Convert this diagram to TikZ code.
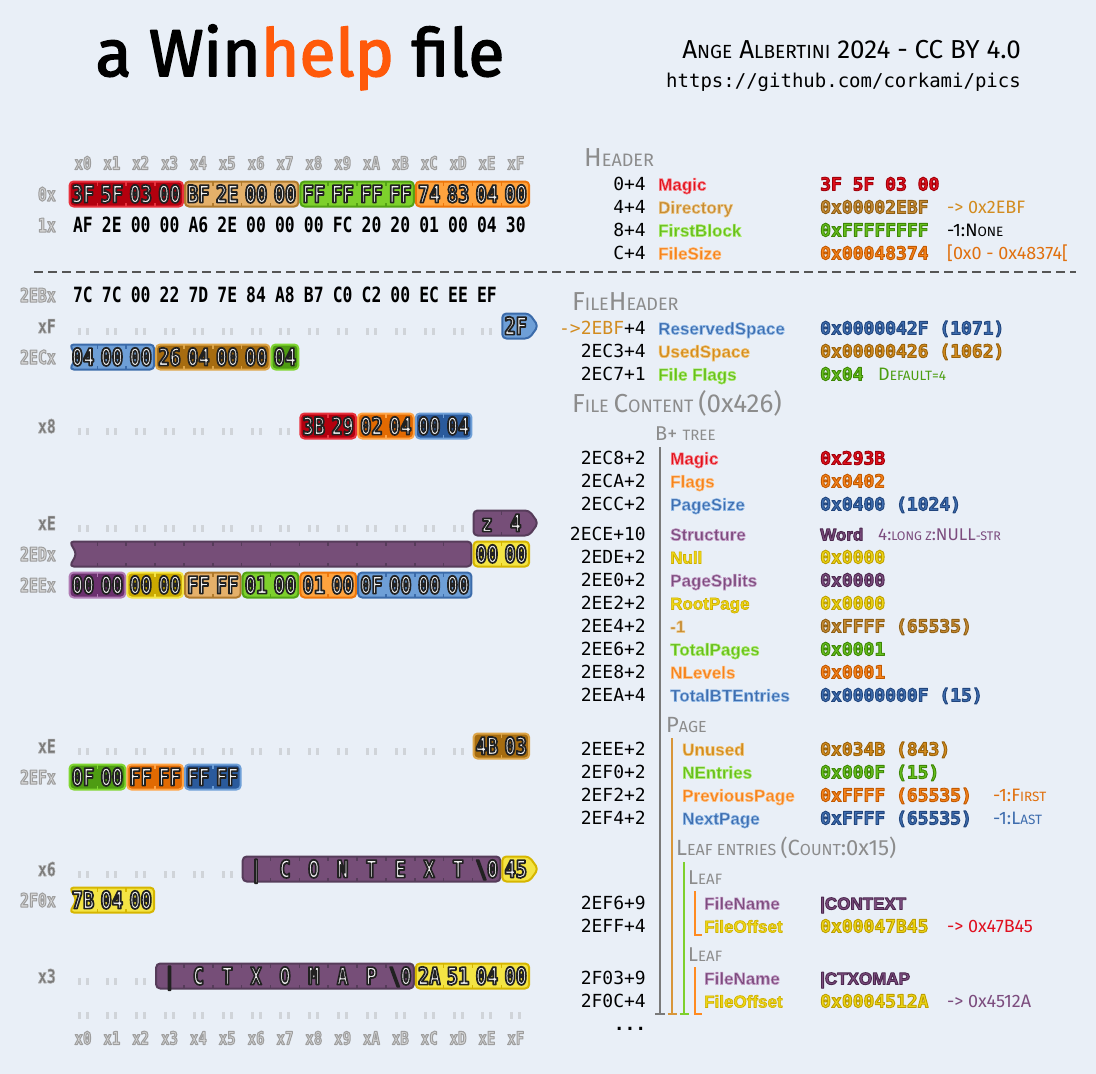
\documentclass[tikz,border=0pt]{standalone}
\usepackage{fontspec}
\setmainfont{Fira Sans}
\newfontfamily\hexf[FakeStretch=0.78]{DejaVu Sans Mono}
\newfontfamily\monof{DejaVu Sans Mono}
\newfontfamily\namef{Liberation Sans}
\newfontfamily\handf{Fira Sans}
\usetikzlibrary{calc}

\definecolor{bg}{HTML}{E9EFF7}
\definecolor{fRed}{HTML}{B3000E}\definecolor{bRed}{HTML}{E8323E}
\definecolor{fTan}{HTML}{E4B06A}\definecolor{bTan}{HTML}{B07A2C}
\definecolor{fGrn}{HTML}{7DD02C}\definecolor{bGrn}{HTML}{52A214}
\definecolor{fOrg}{HTML}{FFA33E}\definecolor{bOrg}{HTML}{EE760A}
\definecolor{fBlu}{HTML}{6E9FD7}\definecolor{bBlu}{HTML}{3B6BAA}
\definecolor{fBrn}{HTML}{A66C10}\definecolor{bBrn}{HTML}{DDA548}
\definecolor{fDgr}{HTML}{4E9C12}\definecolor{bDgr}{HTML}{80D632}
\definecolor{fDor}{HTML}{E16A02}\definecolor{bDor}{HTML}{FFA547}
\definecolor{fDbl}{HTML}{2A5A9C}\definecolor{bDbl}{HTML}{6E9FD7}
\definecolor{fPur}{HTML}{764E78}\definecolor{bPur}{HTML}{563C5A}
\definecolor{fDpu}{HTML}{6B306E}\definecolor{bDpu}{HTML}{B07CB4}
\definecolor{fYel}{HTML}{F4E444}\definecolor{bYel}{HTML}{D6B600}
\definecolor{fDye}{HTML}{CBA900}\definecolor{bDye}{HTML}{F4E444}
\definecolor{txtL}{HTML}{F2F2F2}
\definecolor{clL}{HTML}{D4D4D4}
\definecolor{dlM}{HTML}{767676}
\definecolor{dotc}{HTML}{D0D4D9}
\definecolor{dashc}{HTML}{555555}
\definecolor{ttlc}{HTML}{8C8C8C}
\definecolor{helpc}{HTML}{FF5A0A}
\definecolor{cRM}{HTML}{E0101C}\definecolor{cTM}{HTML}{C68C34}
\definecolor{cGM}{HTML}{66BE1E}\definecolor{cOM}{HTML}{F5831C}
\definecolor{cBM}{HTML}{3E6DAE}\definecolor{cNM}{HTML}{D28C20}
\definecolor{cPM}{HTML}{7C4C7E}\definecolor{cYM}{HTML}{EED614}
\definecolor{nOrg}{HTML}{E0700E}\definecolor{nGrn}{HTML}{4C9E10}
\definecolor{nRed}{HTML}{E01020}
\definecolor{lnGray}{HTML}{7A7A7A}\definecolor{lnTan}{HTML}{D8963A}
\definecolor{lnGrn}{HTML}{7ED02C}\definecolor{lnOrg}{HTML}{FF8A20}
% stroke colours (rgb) for outlined text
\def\scRL{0.97 0.52 0.55}\def\scRD{0.63 0 0.04}
\def\scTL{0.93 0.78 0.53}\def\scTD{0.56 0.37 0.08}
\def\scGL{0.67 0.92 0.42}\def\scGD{0.24 0.53 0.02}
\def\scOL{1 0.75 0.5}\def\scOD{0.76 0.35 0}
\def\scBL{0.57 0.73 0.91}\def\scBD{0.13 0.27 0.49}
\def\scNL{0.95 0.77 0.45}\def\scND{0.6 0.38 0.04}
\def\scPL{0.77 0.62 0.78}\def\scPD{0.3 0.16 0.31}
\def\scYL{0.8 0.68 0}\def\scYD{0.74 0.62 0}

% outlined text: #1 stroke rgb, #2 fill colour, #3 stroke width, #4 text
\newcommand\outl[4]{\special{pdf:literal direct q}{\color{#2}\special{pdf:literal direct 2 Tr #3 w 1 j #1 RG}#4}\special{pdf:literal direct Q}}
\newcommand\fnm[2]{\edef\tmpS{\csname s#1L\endcsname}\edef\tmpM{#1M}\outl{\tmpS}{\tmpM}{0.6}{#2}}
\newcommand\fvl[2]{\edef\tmpS{\csname s#1D\endcsname}\edef\tmpM{#1M}\outl{\tmpS}{\tmpM}{0.9}{#2}}
\newcommand\szz[2]{{\fontsize{#1}{#1}\selectfont #2}}

\newcommand\grp[7]{%
\pgfmathsetmacro\gL{83+28.85*(#2)-13.4}%
\pgfmathsetmacro\gR{83+28.85*(#3)+13.4}%
\pgfmathsetmacro\gT{#1-12.5}%
\pgfmathsetmacro\gB{#1+12.5}%
\pgfmathsetmacro\gA{\gR+9}%
\pgfmathsetmacro\gN{\gL+7}%
\ifcase\numexpr2*#6+#7\relax
\draw[gbox,fill=#4,draw=#5] (\gL,\gT) -- (\gR,\gT) -- (\gR,\gB) -- (\gL,\gB) -- cycle;
\or
\draw[gbox,fill=#4,draw=#5] (\gL,\gT) -- (\gR,\gT) -- (\gA,#1) -- (\gR,\gB) -- (\gL,\gB) -- cycle;
\or
\draw[gbox,fill=#4,draw=#5] (\gL,\gT) -- (\gR,\gT) -- (\gR,\gB) -- (\gL,\gB) -- (\gN,#1) -- cycle;
\or
\draw[gbox,fill=#4,draw=#5] (\gL,\gT) -- (\gR,\gT) -- (\gA,#1) -- (\gR,\gB) -- (\gL,\gB) -- (\gN,#1) -- cycle;
\fi
\ifnum#3>#2\relax
\pgfmathtruncatemacro\gE{#3-1}%
\foreach \k in {#2,...,\gE}{%
\draw[draw=#5,line width=1.6] ({83+28.85*(\k+0.5)},\gT) -- ++(0,4) ({83+28.85*(\k+0.5)},\gB) -- ++(0,-4);}%
\fi}

\newcommand\btxt[3]{%
\foreach \bt [count=\k from 0] in {#3}{%
\node[btx] (b-#1-#2-\k) at ({83+28.85*(#2+\k)},{#1+8.6}) {\outl{0.13 0.13 0.13}{txtL}{1.7}{\bt}};}}
\newcommand\ptxt[3]{%
\foreach \bt [count=\k from 0] in {#3}{%
\node[ptx] (p-#1-#2-\k) at ({83+28.85*(#2+\k)},{#1+7.5}) {\bt};}}
\newcommand\dotrow[2]{%
\foreach \k in {0,...,#2}{%
\fill[dotc] ({83+28.85*\k-5.5},{#1+2}) rectangle ++(3,7);
\fill[dotc] ({83+28.85*\k+2.5},{#1+2}) rectangle ++(3,7);}}
\newcommand\collab[1]{%
\foreach \h [count=\k from 0] in {0,1,2,3,4,5,6,7,8,9,A,B,C,D,E,F}{%
\node[clab] (cl-#1-\k) at ({83+28.85*\k},{#1+6.5}) {\outl{0.62 0.62 0.62}{clL}{1}{x\h}};}}
\newcommand\rlight[2]{\node[rlab] (rl#1) at (56,{#1+7}) {\outl{0.62 0.62 0.62}{clL}{1}{#2}};}
\newcommand\rdark[2]{\node[rlab] (rl#1) at (56,{#1+7}) {\outl{0.67 0.67 0.67}{dlM}{0.6}{#2}};}

\begin{document}
\begin{tikzpicture}[x=1pt,y=-1pt,
 gbox/.style={line width=2, rounded corners=4, line join=round},
 btx/.style={anchor=base, inner sep=0, font=\hexf\bfseries\fontsize{24}{24}\selectfont},
 ptx/.style={anchor=base, inner sep=0, font=\hexf\bfseries\fontsize{21}{21}\selectfont, text=black},
 clab/.style={anchor=base, inner sep=0, font=\hexf\bfseries\fontsize{18}{18}\selectfont},
 rlab/.style={anchor=base east, inner sep=0, font=\hexf\bfseries\fontsize{19}{19}\selectfont},
 off/.style={anchor=base east, inner sep=0, font=\monof\fontsize{18}{18}\selectfont, text=black},
 fname/.style={anchor=base west, inner sep=0, font=\namef\bfseries\fontsize{17}{17}\selectfont},
 fval/.style={anchor=base west, inner sep=0, font=\monof\bfseries\fontsize{18}{18}\selectfont},
 note/.style={anchor=base west, inner sep=0, font=\handf\fontsize{18}{18}\selectfont},
 ttl/.style={anchor=base west, inner sep=0, font=\handf, text=ttlc},
 tree/.style={line width=1.6}]
\fill[bg] (0,0) rectangle (1096,1074);
\useasboundingbox (0,0) rectangle (1096,1074);

% titles
\node[anchor=base, inner sep=0, font=\fontsize{66}{66}\selectfont] (title) at (300,76) {\outl{0 0 0}{black}{1.6}{a Win}\outl{1 0.35 0.04}{helpc}{1.6}{help}\outl{0 0 0}{black}{1.6}{ file}};
\node[anchor=base east, inner sep=0, font=\handf\fontsize{26}{26}\selectfont] (author) at (1021,58) {A\szz{19}{NGE} A\szz{19}{LBERTINI} 2024 - CC BY 4.0};
\node[anchor=base east, inner sep=0, font=\monof\fontsize{19}{19}\selectfont] (url) at (1021,87) {https://github.com/corkami/pics};

% ---------------- hex view
\collab{163}
\rlight{194}{0x}
\grp{194}{0}{3}{fRed}{bRed}{0}{0}
\grp{194}{4}{7}{fTan}{bTan}{0}{0}
\grp{194}{8}{11}{fGrn}{bGrn}{0}{0}
\grp{194}{12}{15}{fOrg}{bOrg}{0}{0}
\btxt{194}{0}{3F,5F,03,00,BF,2E,00,00,FF,FF,FF,FF,74,83,04,00}
\rlight{225}{1x}
\ptxt{225}{0}{AF,2E,00,00,A6,2E,00,00,00,FC,20,20,01,00,04,30}

\draw[line width=2, draw=dashc, dash pattern=on 9 off 5] (34,272) -- (1076,272);

\rlight{295}{2EBx}
\ptxt{295}{0}{7C,7C,00,22,7D,7E,84,A8,B7,C0,C2,00,EC,EE,EF}
\rdark{326}{xF}
\dotrow{326}{14}
\grp{326}{15}{15}{fBlu}{bBlu}{0}{1}
\btxt{326}{15}{2F}
\rlight{357}{2ECx}
\grp{357}{0}{2}{fBlu}{bBlu}{1}{0}
\grp{357}{3}{6}{fBrn}{bBrn}{0}{0}
\grp{357}{7}{7}{fDgr}{bDgr}{0}{0}
\btxt{357}{0}{04,00,00,26,04,00,00,04}

\rdark{426}{x8}
\dotrow{426}{7}
\grp{426}{8}{9}{fRed}{bRed}{0}{0}
\grp{426}{10}{11}{fDor}{bDor}{0}{0}
\grp{426}{12}{13}{fDbl}{bDbl}{0}{0}
\btxt{426}{8}{3B,29,02,04,00,04}

\rdark{523}{xE}
\dotrow{523}{13}
\grp{523}{14}{15}{fPur}{bPur}{0}{1}
\btxt{523}{14}{z,4}
\rlight{554}{2EDx}
\grp{554}{0}{13}{fPur}{bPur}{1}{0}
\grp{554}{14}{15}{fYel}{bYel}{0}{0}
\btxt{554}{14}{00,00}
\rlight{585}{2EEx}
\grp{585}{0}{1}{fDpu}{bDpu}{0}{0}
\grp{585}{2}{3}{fDye}{bDye}{0}{0}
\grp{585}{4}{5}{fTan}{bTan}{0}{0}
\grp{585}{6}{7}{fGrn}{bGrn}{0}{0}
\grp{585}{8}{9}{fOrg}{bOrg}{0}{0}
\grp{585}{10}{13}{fBlu}{bBlu}{0}{0}
\btxt{585}{0}{00,00,00,00,FF,FF,01,00,01,00,0F,00,00,00}

\rdark{746}{xE}
\dotrow{746}{13}
\grp{746}{14}{15}{fBrn}{bBrn}{0}{0}
\btxt{746}{14}{4B,03}
\rlight{777}{2EFx}
\grp{777}{0}{1}{fDgr}{bDgr}{0}{0}
\grp{777}{2}{3}{fDor}{bDor}{0}{0}
\grp{777}{4}{5}{fDbl}{bDbl}{0}{0}
\btxt{777}{0}{0F,00,FF,FF,FF,FF}

\rdark{869}{x6}
\dotrow{869}{5}
\grp{869}{6}{14}{fPur}{bPur}{0}{0}
\grp{869}{15}{15}{fYel}{bYel}{0}{1}
\btxt{869}{6}{|,C,O,N,T,E,X,T,\textbackslash 0,45}
\rlight{900}{2F0x}
\grp{900}{0}{2}{fYel}{bYel}{1}{0}
\btxt{900}{0}{7B,04,00}

\rdark{976}{x3}
\dotrow{976}{2}
\grp{976}{3}{11}{fPur}{bPur}{0}{0}
\grp{976}{12}{15}{fYel}{bYel}{0}{0}
\btxt{976}{3}{|,C,T,X,O,M,A,P,\textbackslash 0,2A,51,04,00}
\dotrow{1010}{15}
\collab{1038}

% ---------------- structure panel
\node[ttl] (tHdr) at (584,166) {\szz{26}{H}\szz{18}{EADER}};
\node[off] (o01) at (646,190.5) {0+4};
\node[fname] (n01) at (658,190.5) {\fnm{cR}{Magic}};
\node[fval] (v01) at (820,190.5) {\fvl{cR}{3F 5F 03 00}};
\node[off] (o02) at (646,213.5) {4+4};
\node[fname] (n02) at (658,213.5) {\fnm{cT}{Directory}};
\node[fval] (v02) at (820,213.5) {\fvl{cT}{0x00002EBF}};
\node[note,text=cNM] (a02) at (947,213.5) {-> 0x2EBF};
\node[off] (o03) at (646,236.5) {8+4};
\node[fname] (n03) at (658,236.5) {\fnm{cG}{FirstBlock}};
\node[fval] (v03) at (820,236.5) {\fvl{cG}{0xFFFFFFFF}};
\node[note,text=black] (a03) at (947,236.5) {-1:N\szz{13.5}{ONE}};
\node[off] (o04) at (646,259.5) {C+4};
\node[fname] (n04) at (658,259.5) {\fnm{cO}{FileSize}};
\node[fval] (v04) at (820,259.5) {\fvl{cO}{0x00048374}};
\node[note,text=nOrg] (a04) at (947,259.5) {{[}0x0 - 0x48374{[}};

\node[ttl] (tFH) at (572,310) {\szz{26}{F}\szz{18}{ILE}\szz{26}{H}\szz{18}{EADER}};
\node[off] (o05) at (646,334.5) {{\color{cNM}->2EBF}+4};
\node[fname] (n05) at (658,334.5) {\fnm{cB}{ReservedSpace}};
\node[fval] (v05) at (820,334.5) {\fvl{cB}{0x0000042F (1071)}};
\node[off] (o06) at (646,357.5) {2EC3+4};
\node[fname] (n06) at (658,357.5) {\fnm{cN}{UsedSpace}};
\node[fval] (v06) at (820,357.5) {\fvl{cN}{0x00000426 (1062)}};
\node[off] (o07) at (646,380.5) {2EC7+1};
\node[fname] (n07) at (658,380.5) {\fnm{cG}{File Flags}};
\node[fval] (v07) at (820,380.5) {\fvl{cG}{0x04}};
\node[note,text=nGrn] (a07) at (878,380.5) {D\szz{13.5}{EFAULT=4}};
\node[ttl] (tFC) at (572,412) {\szz{26}{F}\szz{18}{ILE }\szz{26}{C}\szz{18}{ONTENT }\szz{26}{(0x426)}};

\node[ttl] (tBT) at (655,440) {\szz{20}{B+ }\szz{15}{TREE}};
\foreach \yy/\oo/\cc/\nn/\vv [count=\r] in {
458/2EC8+2/cR/Magic/0x293B,
481/2ECA+2/cO/Flags/0x0402,
504/2ECC+2/cB/PageSize/0x0400 (1024),
557/2EDE+2/cY/Null/0x0000,
580/2EE0+2/cP/PageSplits/0x0000,
603/2EE2+2/cY/RootPage/0x0000,
626/2EE4+2/cT/-1/0xFFFF (65535),
649/2EE6+2/cG/TotalPages/0x0001,
672/2EE8+2/cO/NLevels/0x0001,
695/2EEA+4/cB/TotalBTEntries/0x0000000F (15)}{
\node[off] (bo\r) at (646,{\yy+6.5}) {\oo};
\node[fname] (bn\r) at (670,{\yy+6.5}) {\fnm{\cc}{\nn}};
\node[fval] (bv\r) at (820,{\yy+6.5}) {\fvl{\cc}{\vv}};
}
\node[off] (oS) at (646,540.5) {2ECE+10};
\node[fname] (nS) at (670,540.5) {\fnm{cP}{Structure}};
\node[fname] (vS) at (820,540.5) {\fvl{cP}{Word}};
\node[note,text=cPM,font=\handf\fontsize{17}{17}\selectfont] (aS) at (878,540.5) {4:\szz{12.5}{LONG Z}:NULL\szz{12.5}{-STR}};

\node[ttl] (tPg) at (666,732) {\szz{22}{P}\szz{16}{AGE}};
\foreach \yy/\oo/\cc/\nn/\vv [count=\r] in {
749/2EEE+2/cN/Unused/0x034B (843),
772/2EF0+2/cG/NEntries/0x000F (15),
795/2EF2+2/cO/PreviousPage/0xFFFF (65535),
818/2EF4+2/cB/NextPage/0xFFFF (65535)}{
\node[off] (po\r) at (646,{\yy+6.5}) {\oo};
\node[fname] (pn\r) at (682,{\yy+6.5}) {\fnm{\cc}{\nn}};
\node[fval] (pv\r) at (820,{\yy+6.5}) {\fvl{\cc}{\vv}};
}
\node[note,text=nOrg] (aPP) at (993,801.5) {-1:F\szz{13.5}{IRST}};
\node[note,text=cBM] (aNP) at (993,824.5) {-1:L\szz{13.5}{AST}};

\node[ttl] (tLE) at (676,855) {\szz{22}{L}\szz{16}{EAF ENTRIES }\szz{22}{(C}\szz{16}{OUNT}\szz{22}{:0x15)}};
\node[ttl] (tL1) at (688,884) {\szz{20}{L}\szz{15}{EAF}};
\node[off] (lo1) at (646,909.5) {2EF6+9};
\node[fname] (ln1) at (704,909.5) {\fnm{cP}{FileName}};
\node[fname] (lv1) at (820,909.5) {\fvl{cP}{|CONTEXT}};
\node[off] (lo2) at (646,932.5) {2EFF+4};
\node[fname] (ln2) at (704,932.5) {\fnm{cY}{FileOffset}};
\node[fval] (lv2) at (820,932.5) {\fvl{cY}{0x00047B45}};
\node[note,text=nRed] (la2) at (947,932.5) {-> 0x47B45};
\node[ttl] (tL2) at (688,961) {\szz{20}{L}\szz{15}{EAF}};
\node[off] (lo3) at (646,984.5) {2F03+9};
\node[fname] (ln3) at (704,984.5) {\fnm{cP}{FileName}};
\node[fname] (lv3) at (820,984.5) {\fvl{cP}{|CTXOMAP}};
\node[off] (lo4) at (646,1007.5) {2F0C+4};
\node[fname] (ln4) at (704,1007.5) {\fnm{cY}{FileOffset}};
\node[fval] (lv4) at (820,1007.5) {\fvl{cY}{0x0004512A}};
\node[note,text=cPM] (la4) at (947,1007.5) {-> 0x4512A};
\node[anchor=base, inner sep=0, font=\monof\bfseries\fontsize{18}{18}\selectfont] (ell) at (630,1030) {...};

% tree lines
\draw[tree,lnGray] (660,447) -- (660,1014) (655,1014) -- (665,1014);
\draw[tree,lnTan] (672,738) -- (672,1014) (667.5,1014) -- (676.5,1014);
\draw[tree,lnGrn] (684,862) -- (684,1014) (679.5,1014) -- (688.5,1014);
\draw[tree,lnOrg] (695,891) -- (695,935) -- (702,935);
\draw[tree,lnOrg] (695,967) -- (695,1014) -- (702,1014);
\end{tikzpicture}
\end{document}
